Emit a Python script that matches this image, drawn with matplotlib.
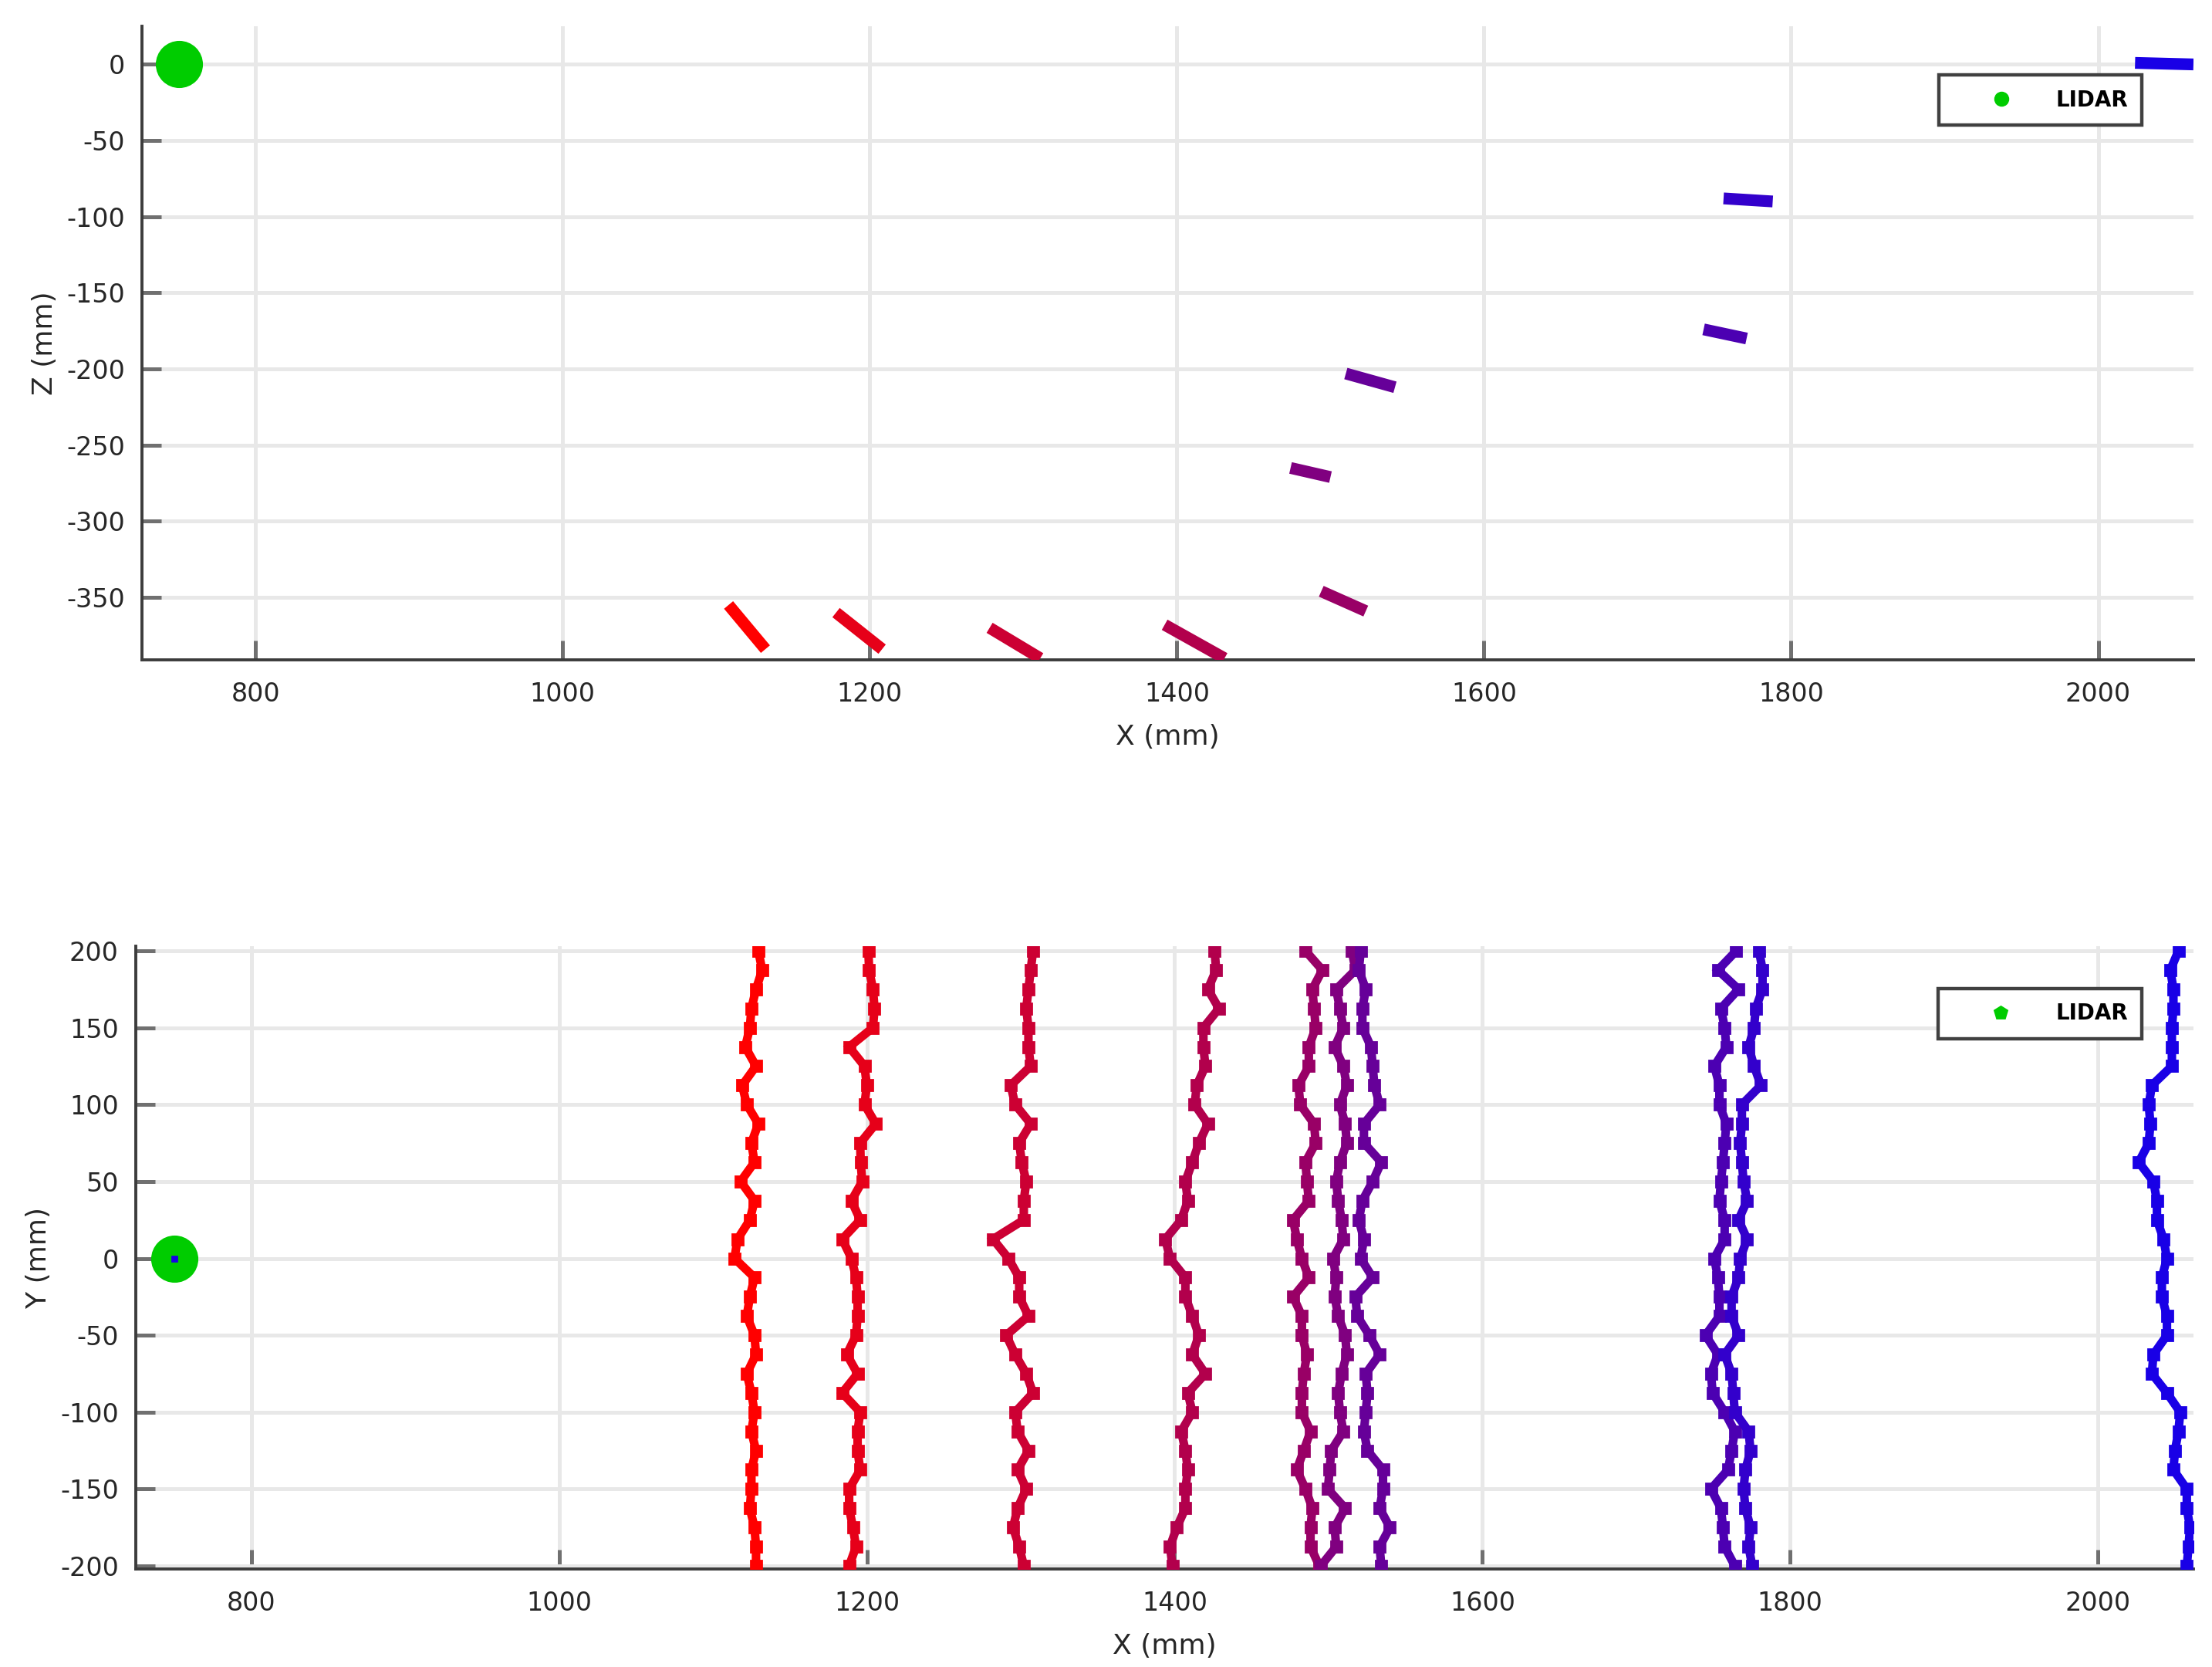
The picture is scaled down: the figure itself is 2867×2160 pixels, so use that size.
import matplotlib
matplotlib.use("Agg")
import matplotlib.pyplot as plt
from matplotlib.lines import Line2D

plt.rcParams['font.family'] = ['DejaVu Sans']
plt.rcParams['axes.unicode_minus'] = False

# LIDAR position (mm)
LIDAR_X = 750
LIDAR_Y = 0
LIDAR_Z = 0

Y_SAMPLES = [200, 187.5, 175, 162.5, 150, 137.5, 125, 112.5, 100, 87.5, 75,
             62.5, 50, 37.5, 25, 12.5, 0, -12.5, -25, -37.5, -50, -62.5, -75,
             -87.5, -100, -112.5, -125, -137.5, -150, -162.5, -175, -187.5, -200]

# x of each scan line at those y (mm), red -> blue
scan1 = [1129.5, 1132, 1128, 1125, 1124, 1121, 1128, 1119, 1122, 1129.5, 1125,
         1127, 1118, 1127, 1124, 1116, 1114, 1127, 1124, 1122, 1127, 1128, 1122,
         1125, 1127, 1125, 1128, 1125, 1125, 1124, 1127, 1128, 1128]
scan2 = [1201, 1201.5, 1204, 1205, 1204, 1188.5, 1198.5, 1200, 1198.5, 1205.8, 1195.7,
         1196, 1197, 1190, 1195.7, 1184, 1190, 1193, 1194, 1194, 1193, 1187, 1194,
         1184, 1195.7, 1194, 1194, 1195.7, 1188.5, 1188.5, 1191, 1193, 1188.5]
scan3 = [1308, 1306.5, 1305, 1303.6, 1305, 1305, 1306.5, 1293.5, 1296.4, 1306.5, 1299,
         1300.7, 1303.6, 1302, 1302, 1282, 1292, 1299, 1299, 1305, 1290.6, 1296.4, 1303.6,
         1308, 1296.4, 1298, 1305, 1298, 1303.6, 1298, 1295, 1299, 1302]
scan4 = [1426, 1427, 1421.6, 1428.8, 1418.7, 1418.7, 1420, 1414.4, 1413, 1421.6, 1415.8,
         1411.5, 1407, 1408.6, 1404.3, 1394, 1397, 1407, 1407, 1411.5, 1415.8, 1411.5, 1420,
         1408.6, 1411.5, 1404.3, 1407, 1408.6, 1407, 1407, 1401.4, 1397, 1398.6]
scan5 = [1485, 1496, 1489.5, 1490.6, 1491.7, 1487.2, 1487.2, 1480.5, 1481.6, 1490.6, 1491.7,
         1485, 1486, 1487.2, 1477, 1479.4, 1482.7, 1487.2, 1477, 1482.7, 1482.7, 1486, 1483.9,
         1482.7, 1482.7, 1488.3, 1483.9, 1479.4, 1485, 1489.5, 1488.3, 1488.3, 1494]
scan6 = [1515.2, 1517.5, 1505, 1507.4, 1509.6, 1504, 1509.6, 1511.9, 1507.4, 1510.8, 1511.9,
         1507.4, 1505, 1506.3, 1508.5, 1509.6, 1503, 1505, 1504, 1506.3, 1510.8, 1511.9, 1508.5,
         1506.3, 1507.4, 1509.6, 1501.8, 1500.7, 1499.6, 1510.8, 1504, 1505, 1495]
scan7 = [1520.9, 1519.7, 1524.2, 1522, 1522, 1527.6, 1528.7, 1529.8, 1533.2, 1523, 1523,
         1534.3, 1528.7, 1522, 1519.7, 1523, 1520.9, 1528.7, 1517.5, 1518.6, 1526.5, 1533.2, 1524.2,
         1525.3, 1524.2, 1523, 1525.3, 1535.4, 1535.4, 1533.2, 1539.9, 1533.2, 1534.3]
scan8 = [1765, 1753, 1766.4, 1755, 1757.4, 1758.5, 1750.7, 1754, 1754, 1758.5, 1757.4,
         1756.3, 1755, 1754, 1757.4, 1757.4, 1750.7, 1753, 1754, 1754, 1745, 1753, 1748.5,
         1749.6, 1757.4, 1764, 1761.9, 1759.6, 1748.5, 1755, 1756.3, 1757.4, 1764]
scan9 = [1779.8, 1782, 1782, 1777.6, 1776.5, 1773, 1776.5, 1781, 1768.6, 1768.6, 1767.5,
         1768.6, 1769.7, 1772, 1766.4, 1772, 1767.5, 1766.4, 1761.9, 1761.9, 1766.4, 1757.4, 1761.9,
         1763, 1764, 1773, 1774.2, 1770.9, 1769.7, 1770.9, 1774.2, 1773, 1775.3]
scan10 = [2052.3, 2047, 2049, 2049, 2048, 2048, 2048, 2035, 2033, 2034, 2033,
          2026.5, 2036, 2038.3, 2038.3, 2042.6, 2044.8, 2041.5, 2041.5, 2044.8, 2044.8, 2036, 2035,
          2044.8, 2053.4, 2052.3, 2050, 2049, 2057.7, 2057.7, 2059.8, 2058.8, 2057.7]
scans_xy = [scan1, scan2, scan3, scan4, scan5, scan6, scan7, scan8, scan9, scan10]

# side view (X-Z): start / end of each scan line
seg_x = [[1108, 1132], [1178, 1208], [1278, 1311], [1392, 1431], [1494, 1523],
         [1474, 1500], [1510, 1542], [1743, 1771], [1756, 1788], [2024, 2062]]
seg_z = [[-355, -384], [-360, -384], [-370, -390], [-368, -390], [-346, -359],
         [-265, -271], [-203, -212], [-174, -180], [-88, -90], [1, 0]]

x_ticks = [800, 1000, 1200, 1400, 1600, 1800, 2000]
z_ticks = [0, -50, -100, -150, -200, -250, -300, -350]
y_ticks = [200, 150, 100, 50, 0, -50, -100, -150, -200]

scan_colors = ['#ff0000', '#e60019', '#cc0033', '#b2004c', '#990066',
               '#800080', '#660099', '#4c00b2', '#3300cc', '#1900e6']
lidar_green = '#00cc00'


def style_axes(ax):
    for side in ['top', 'right']:
        ax.spines[side].set_visible(False)
    for side in ['left', 'bottom']:
        ax.spines[side].set_color('#3c3c3c')
        ax.spines[side].set_linewidth(1.4)
    ax.tick_params(direction='in', length=9, width=1.8, color='#707070',
                   labelsize=12, labelcolor='#262626')
    ax.tick_params(axis='x', pad=10)
    ax.tick_params(axis='y', pad=8)
    ax.grid(True, color='#e8e8e8', linewidth=1.8)
    ax.set_axisbelow(True)


def add_legend(ax, marker, anchor):
    handle = Line2D([], [], linestyle='none', marker=marker, color=lidar_green,
                    markersize=6)
    leg = ax.legend([handle], ['LIDAR'], loc='upper right', bbox_to_anchor=anchor,
                    frameon=True, fancybox=False, framealpha=1,
                    edgecolor='#404040', prop={'size': 10, 'weight': 'bold'},
                    handlelength=4.5, handletextpad=0.3, borderpad=0.66,
                    borderaxespad=0)
    leg.get_frame().set_linewidth(1.6)


fig = plt.figure(figsize=(14.335, 10.8), dpi=200)
ax1 = fig.add_axes([0.0642, 0.6042, 0.9274, 0.3800])
ax2 = fig.add_axes([0.0614, 0.0588, 0.9302, 0.3736])

# X-Z view
for xs, zs, c in zip(seg_x, seg_z, scan_colors):
    ax1.plot(xs, zs, color=c, linewidth=5.5, solid_capstyle='butt', zorder=3)
ax1.plot(LIDAR_X, LIDAR_Z, 'o', color=lidar_green, markersize=21, zorder=4)
ax1.set_xlim(726, 2062)
ax1.set_ylim(-391, 25)
ax1.set_xticks(x_ticks)
ax1.set_yticks(z_ticks)
style_axes(ax1)
ax1.set_xlabel('X (mm)', fontsize=13, color='#262626', labelpad=8)
ax1.set_ylabel('Z (mm)', fontsize=13, color='#262626', labelpad=4)
add_legend(ax1, 'o', (0.975, 0.923))

# X-Y view
for xs, c in zip(scans_xy, scan_colors):
    ax2.plot(xs, Y_SAMPLES, color=c, linewidth=4, marker='s', markersize=5,
             solid_joinstyle='miter', zorder=3)
ax2.plot(LIDAR_X, LIDAR_Y, 'o', color=lidar_green, markersize=21, zorder=4)
ax2.plot(LIDAR_X, LIDAR_Y, 's', color=scan_colors[-1], markersize=2, zorder=5)
ax2.set_xlim(725, 2062)
ax2.set_ylim(-202, 203)
ax2.set_xticks(x_ticks)
ax2.set_yticks(y_ticks)
style_axes(ax2)
ax2.set_xlabel('X (mm)', fontsize=13, color='#262626', labelpad=8)
ax2.set_ylabel('Y (mm)', fontsize=13, color='#262626', labelpad=4)
add_legend(ax2, 'p', (0.975, 0.932))

fig.savefig('out.png', dpi=200)
